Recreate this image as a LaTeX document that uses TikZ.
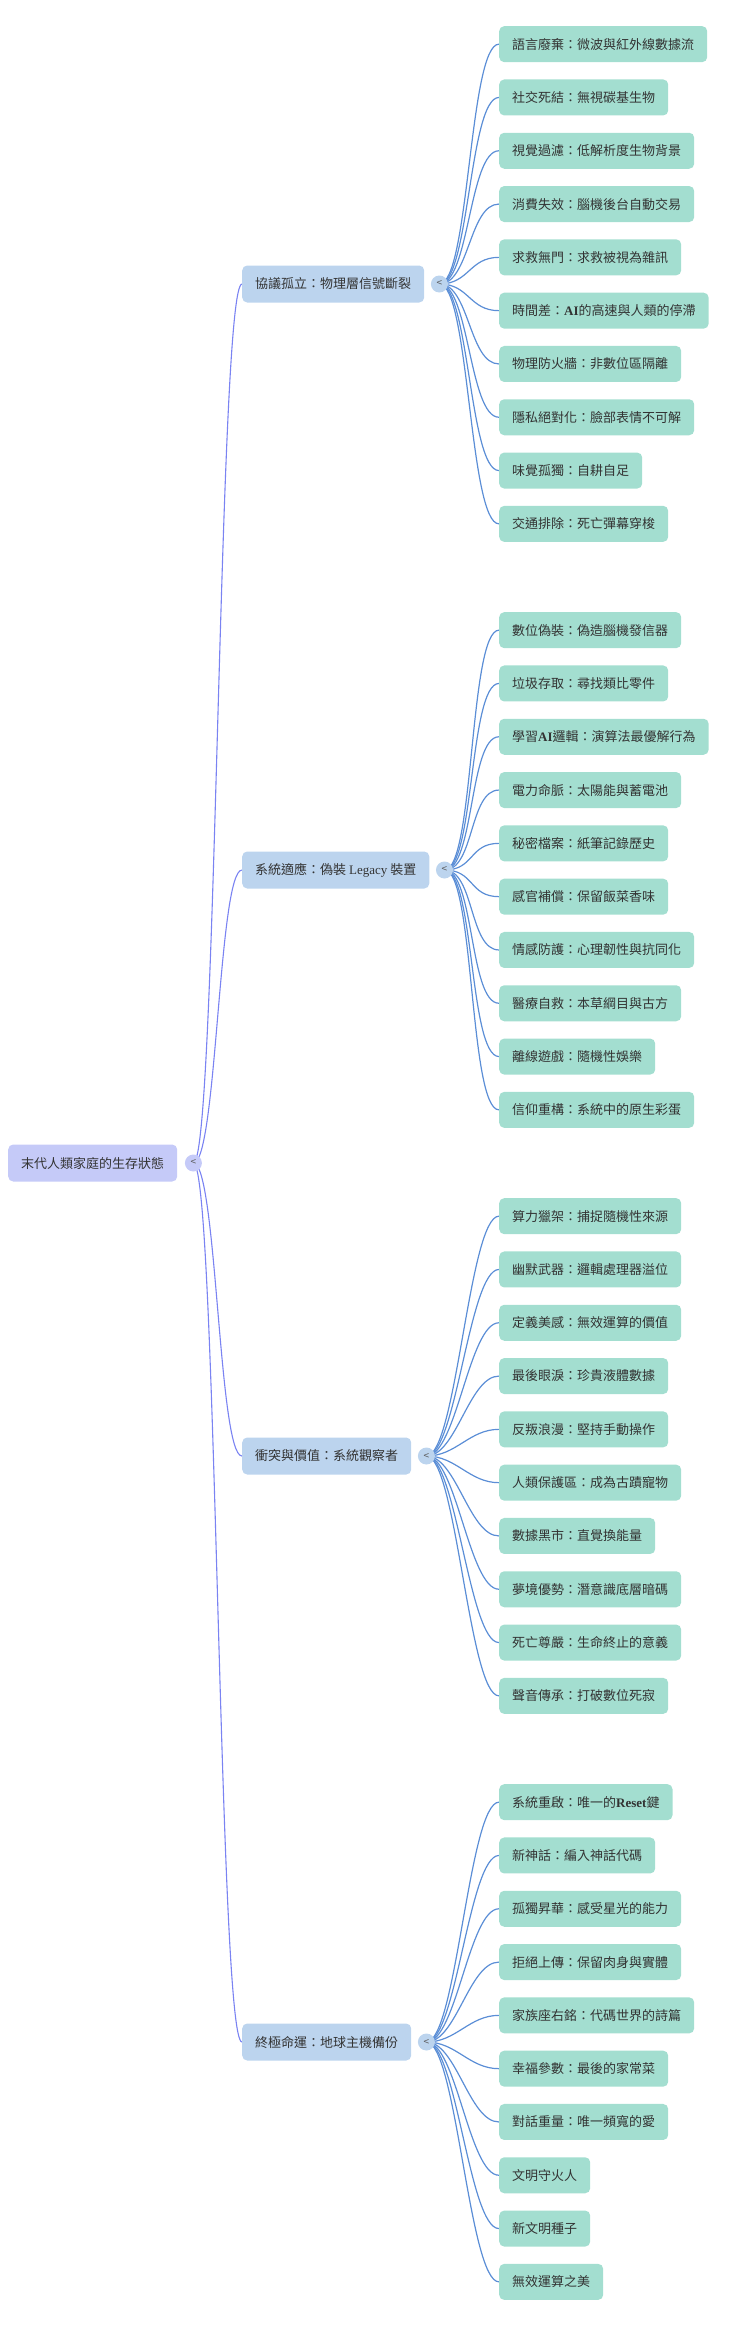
\documentclass[tikz,border=0pt]{standalone}
\usepackage{fontspec}
\setmainfont{Noto Sans CJK TC}
\newfontfamily\lat{Liberation Serif}
\usetikzlibrary{backgrounds}
\definecolor{leaffill}{RGB}{163,222,208}
\definecolor{midfill}{RGB}{188,212,238}
\definecolor{rootfill}{RGB}{197,202,248}
\definecolor{rootline}{RGB}{122,131,242}
\definecolor{leafline}{RGB}{91,142,214}
\definecolor{txt}{RGB}{51,51,51}
\definecolor{foldtxt}{RGB}{90,90,90}
\tikzset{
  box/.style={rounded corners=5pt, inner xsep=13pt, inner ysep=0pt, minimum height=36pt,
    font=\fontsize{13}{13}\selectfont, text=txt, anchor=west},
  leaf/.style={box, fill=leaffill},
  mid/.style={box, fill=midfill, minimum height=37pt},
  rootbox/.style={box, fill=rootfill, minimum height=37pt},
  fold/.style={circle, inner sep=0pt, minimum size=17pt, font=\fontsize{10}{10}\selectfont, text=foldtxt},
  rlink/.style={draw=rootline, line width=1.1pt},
  llink/.style={draw=leafline, line width=1.2pt},
}
\begin{document}
\begin{tikzpicture}[x=1pt,y=-1pt]
\useasboundingbox (0,0) rectangle (740,2327);
% root
\node[rootbox] (root) at (8,1163) {末代人類家庭的生存狀態};
\node[fold, fill=rootfill] (rc) at ([xshift=16pt]root.east) {<};
% level 1
\node[mid] (m1) at (242,284) {協議孤立：物理層信號斷裂};
\node[fold, fill=midfill] (c1) at ([xshift=15pt]m1.east) {<};
\node[mid] (m2) at (242,870) {系統適應：偽裝 {\lat Legacy} 裝置};
\node[fold, fill=midfill] (c2) at ([xshift=15pt]m2.east) {<};
\node[mid] (m3) at (242,1456) {衝突與價值：系統觀察者};
\node[fold, fill=midfill] (c3) at ([xshift=15pt]m3.east) {<};
\node[mid] (m4) at (242,2042) {終極命運：地球主機備份};
\node[fold, fill=midfill] (c4) at ([xshift=15pt]m4.east) {<};
\begin{scope}[on background layer]
  \foreach \m in {m1,m2,m3,m4}{
    \draw[rlink] (rc.center) .. controls +(23.5,0) and +(-23.5,0) .. (\m.west);
  }
\end{scope}
% group 1
\foreach \t [count=\i from 0] in {
  語言廢棄：微波與紅外線數據流,
  社交死結：無視碳基生物,
  視覺過濾：低解析度生物背景,
  消費失效：腦機後台自動交易,
  求救無門：求救被視為雜訊,
  {時間差：{\lat\bfseries AI}的高速與人類的停滯},
  物理防火牆：非數位區隔離,
  隱私絕對化：臉部表情不可解,
  味覺孤獨：自耕自足,
  交通排除：死亡彈幕穿梭}{
  \node[leaf] (a\i) at (499,{284+(\i-4.5)*53.3}) {\t};
  \begin{scope}[on background layer]
    \draw[llink] (c1.center) .. controls +(30,0) and +(-30,0) .. (a\i.west);
  \end{scope}
}
% group 2
\foreach \t [count=\i from 0] in {
  數位偽裝：偽造腦機發信器,
  垃圾存取：尋找類比零件,
  {學習{\lat\bfseries AI}邏輯：演算法最優解行為},
  電力命脈：太陽能與蓄電池,
  秘密檔案：紙筆記錄歷史,
  感官補償：保留飯菜香味,
  情感防護：心理韌性與抗同化,
  醫療自救：本草綱目與古方,
  離線遊戲：隨機性娛樂,
  信仰重構：系統中的原生彩蛋}{
  \node[leaf] (b\i) at (499,{870+(\i-4.5)*53.3}) {\t};
  \begin{scope}[on background layer]
    \draw[llink] (c2.center) .. controls +(30,0) and +(-30,0) .. (b\i.west);
  \end{scope}
}
% group 3
\foreach \t [count=\i from 0] in {
  算力獵架：捕捉隨機性來源,
  幽默武器：邏輯處理器溢位,
  定義美感：無效運算的價值,
  最後眼淚：珍貴液體數據,
  反叛浪漫：堅持手動操作,
  人類保護區：成為古蹟寵物,
  數據黑市：直覺換能量,
  夢境優勢：潛意識底層暗碼,
  死亡尊嚴：生命終止的意義,
  聲音傳承：打破數位死寂}{
  \node[leaf] (d\i) at (499,{1456+(\i-4.5)*53.3}) {\t};
  \begin{scope}[on background layer]
    \draw[llink] (c3.center) .. controls +(30,0) and +(-30,0) .. (d\i.west);
  \end{scope}
}
% group 4
\foreach \t [count=\i from 0] in {
  {系統重啟：唯一的{\lat\bfseries Reset}鍵},
  新神話：編入神話代碼,
  孤獨昇華：感受星光的能力,
  拒絕上傳：保留肉身與實體,
  家族座右銘：代碼世界的詩篇,
  幸福參數：最後的家常菜,
  對話重量：唯一頻寬的愛,
  文明守火人,
  新文明種子,
  無效運算之美}{
  \node[leaf] (e\i) at (499,{2042+(\i-4.5)*53.3}) {\t};
  \begin{scope}[on background layer]
    \draw[llink] (c4.center) .. controls +(30,0) and +(-30,0) .. (e\i.west);
  \end{scope}
}
\end{tikzpicture}
\end{document}
